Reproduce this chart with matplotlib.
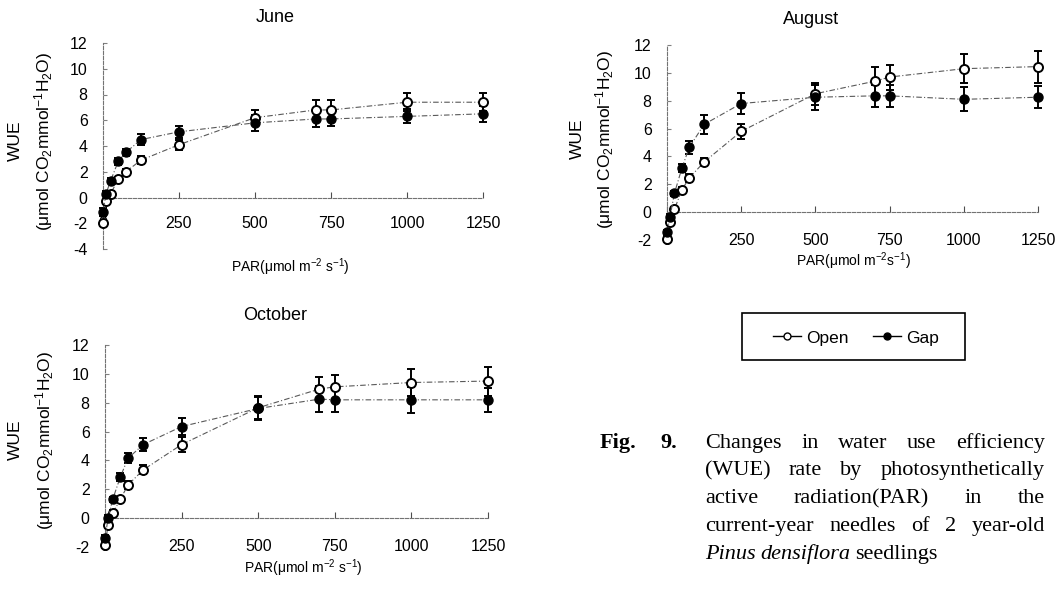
import matplotlib.pyplot as plt
from matplotlib.lines import Line2D
from matplotlib.patches import Rectangle

# PAR levels (umol m-2 s-1)
par = [0, 10, 25, 50, 75, 125, 250, 500, 700, 750, 1000, 1250]
x_ticks = [0, 250, 500, 750, 1000, 1250]

# June
june_open = [-2.0, -0.3, 0.3, 1.4, 2.0, 2.9, 4.1, 6.2, 6.8, 6.8, 7.4, 7.4]
june_open_err = [0.2, 0.2, 0.2, 0.2, 0.2, 0.3, 0.4, 0.6, 0.75, 0.75, 0.7, 0.7]
june_gap = [-1.1, 0.3, 1.3, 2.8, 3.5, 4.5, 5.1, 5.8, 6.1, 6.1, 6.3, 6.5]
june_gap_err = [0.3, 0.2, 0.2, 0.3, 0.3, 0.45, 0.45, 0.6, 0.6, 0.55, 0.55, 0.6]

# August
aug_open = [-1.95, -0.7, 0.2, 1.6, 2.45, 3.6, 5.8, 8.5, 9.4, 9.7, 10.3, 10.45]
aug_open_err = [0.2, 0.2, 0.2, 0.2, 0.3, 0.3, 0.55, 0.8, 1.0, 0.9, 1.05, 1.15]
aug_gap = [-1.45, -0.35, 1.35, 3.15, 4.65, 6.3, 7.8, 8.25, 8.35, 8.35, 8.1, 8.25]
aug_gap_err = [0.2, 0.2, 0.2, 0.3, 0.45, 0.7, 0.75, 0.9, 0.8, 0.8, 0.85, 0.8]

# October
oct_open = [-1.85, -0.5, 0.35, 1.3, 2.3, 3.35, 5.1, 7.65, 8.95, 9.1, 9.4, 9.5]
oct_open_err = [0.2, 0.2, 0.2, 0.2, 0.3, 0.3, 0.5, 0.8, 0.85, 0.85, 0.95, 1.0]
oct_gap = [-1.4, 0.0, 1.3, 2.85, 4.15, 5.1, 6.35, 7.6, 8.25, 8.2, 8.2, 8.2]
oct_gap_err = [0.2, 0.2, 0.2, 0.3, 0.35, 0.45, 0.6, 0.8, 0.9, 0.85, 0.9, 0.85]

caption_lines = [
    "Changes in water use efficiency",
    "(WUE) rate by photosynthetically",
    "active radiation(PAR) in the",
    "current-year needles of 2 year-old",
]

plt.rcParams['font.family'] = ['Liberation Sans', 'DejaVu Sans']
plt.rcParams['axes.unicode_minus'] = False
plt.rcParams['mathtext.fontset'] = 'custom'
plt.rcParams['mathtext.rm'] = 'Liberation Sans'
plt.rcParams['mathtext.it'] = 'Liberation Sans:italic'

W, H = 1062, 589
fig = plt.figure(figsize=(W / 100, H / 100), dpi=100)


def fx(x):
    return x / W


def fy(y):
    return 1 - y / H


def panel(left, right, top, bottom, ymin, yo, yoe, yg, yge, xpad):
    ax = fig.add_axes([fx(left), fy(bottom), fx(right - left), (bottom - top) / H])
    ax.patch.set_alpha(0)
    ls = (0, (5, 2, 1, 2))
    ax.errorbar(par, yo, yerr=yoe, fmt='none', ecolor='black', elinewidth=1.4,
                capsize=3.2, capthick=1.4, clip_on=False, zorder=3)
    ax.errorbar(par, yg, yerr=yge, fmt='none', ecolor='black', elinewidth=1.4,
                capsize=3.2, capthick=1.4, clip_on=False, zorder=3)
    ax.plot(par, yo, linestyle=ls, color='0.35', lw=0.8, marker='o', ms=6.5,
            mfc='white', mec='black', mew=1.4, clip_on=False, zorder=4)
    ax.plot(par, yg, linestyle=ls, color='0.35', lw=0.8, marker='o', ms=6.5,
            mfc='black', mec='black', clip_on=False, zorder=5)
    ax.set_xlim(0, 1250)
    ax.set_ylim(ymin, 12)
    ax.set_xticks(x_ticks)
    ax.set_yticks(range(ymin, 13, 2))
    for s in ['top', 'right']:
        ax.spines[s].set_visible(False)
    ax.spines['bottom'].set_position(('data', 0))
    for s in ['left', 'bottom']:
        ax.spines[s].set_linestyle((0, (3, 1.5)))
        ax.spines[s].set_color('0.45')
        ax.spines[s].set_linewidth(0.8)
    ax.tick_params(axis='x', direction='in', length=4, width=0.8, color='0.3',
                   pad=xpad, labelsize=11.5)
    ax.tick_params(axis='y', direction='in', length=3, width=0.8, color='0.5',
                   pad=11, labelsize=11.5)
    return ax


panel(103, 483, 43, 249, -4, june_open, june_open_err, june_gap, june_gap_err, 13)
panel(667, 1038, 45, 240, -2, aug_open, aug_open_err, aug_gap, aug_gap_err, 15)
panel(105, 488, 345, 547, -2, oct_open, oct_open_err, oct_gap, oct_gap_err, 15)

# titles
fig.text(fx(275), fy(17), 'June', ha='center', va='center', fontsize=13)
fig.text(fx(811), fy(20), 'August', ha='center', va='center', fontsize=13)
fig.text(fx(275), fy(315), 'October', ha='center', va='center', fontsize=13)

# y labels
ylab2 = r'(μmol CO$_2$mmol$^{-1}$H$_2$O)'
for xw, x2, yc in [(15, 44, 141), (577, 605, 139), (15, 45, 440)]:
    fig.text(fx(xw), fy(yc), 'WUE', rotation=90, ha='center', va='center', fontsize=12.5)
    fig.text(fx(x2), fy(yc), ylab2, rotation=90, ha='center', va='center', fontsize=12.5)

# x labels
fig.text(fx(290), fy(267), r'PAR(μmol m$^{-2}$ s$^{-1}$)', ha='center', va='center', fontsize=10)
fig.text(fx(853), fy(261), r'PAR(μmol m$^{-2}$s$^{-1}$)', ha='center', va='center', fontsize=10)
fig.text(fx(303), fy(568), r'PAR(μmol m$^{-2}$ s$^{-1}$)', ha='center', va='center', fontsize=10)

# legend
fig.add_artist(Rectangle((fx(742), fy(360)), fx(223), 47 / H, transform=fig.transFigure,
                         fill=False, lw=1.2, edgecolor='black'))
handles = [
    Line2D([], [], color='black', lw=1, marker='o', ms=5, mfc='white', mec='black'),
    Line2D([], [], color='black', lw=1, marker='o', ms=5, mfc='black', mec='black'),
]
fig.legend(handles, ['Open', 'Gap'], loc='center', bbox_to_anchor=(fx(856), fy(338)),
           ncol=2, frameon=False, fontsize=12.5, handlelength=1.6, handletextpad=0.3,
           columnspacing=1.4)

# caption (justified)
serif = 'Liberation Serif'
cap_size = 16
x0, x1 = 705, 1045
baselines = [448, 475, 503, 531, 559]
renderer = fig.canvas.get_renderer()

fig.text(fx(600), fy(baselines[0]), 'Fig.', family=serif, weight='bold',
         fontsize=cap_size, va='baseline')
fig.text(fx(660), fy(baselines[0]), '9.', family=serif, weight='bold',
         fontsize=cap_size, va='baseline')

for line, yb in zip(caption_lines, baselines):
    words = line.split(' ')
    texts = [fig.text(0, fy(yb), w, family=serif, fontsize=cap_size, va='baseline') for w in words]
    widths = [t.get_window_extent(renderer).width for t in texts]
    gap = (x1 - x0 - sum(widths)) / (len(words) - 1)
    x = x0
    for t, w in zip(texts, widths):
        t.set_x(fx(x))
        x += w + gap

last = [('Pinus', 'italic'), ('densiflora', 'italic'), ('seedlings', 'normal')]
x = x0
for word, st in last:
    t = fig.text(fx(x), fy(baselines[4]), word, family=serif, style=st,
                 fontsize=cap_size, va='baseline')
    x += t.get_window_extent(renderer).width + 5

fig.savefig('out.png', dpi=100)
